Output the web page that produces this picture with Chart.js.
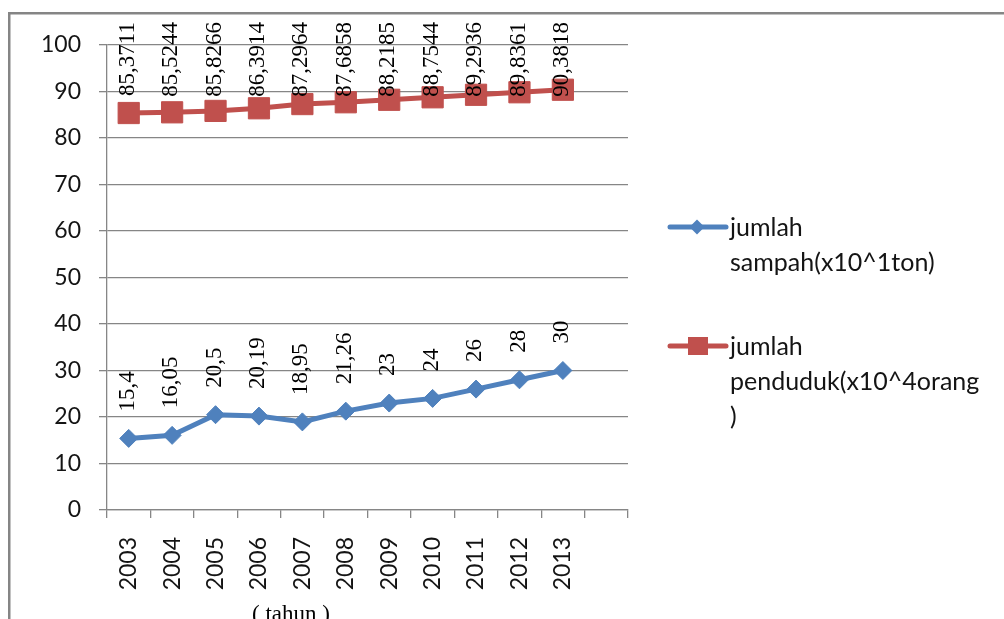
<!DOCTYPE html>
<html>
<head>
<meta charset="utf-8">
<script src="https://cdn.jsdelivr.net/npm/chart.js@4/dist/chart.umd.min.js"></script>
<style>
  html, body { margin: 0; padding: 0; background: #ffffff; overflow: hidden; }
  canvas { display: block; }
</style>
</head>
<body>
<canvas id="chart" width="1004" height="619"></canvas>
<script>
// Years on the x axis (the last slot is left empty)
const years = ['2003', '2004', '2005', '2006', '2007', '2008', '2009', '2010', '2011', '2012', '2013', ''];

// jumlah sampah (x10^1 ton)
const sampah = [15.4, 16.05, 20.5, 20.19, 18.95, 21.26, 23, 24, 26, 28, 30];

// jumlah penduduk (x10^4 orang)
const penduduk = [85.3711, 85.5244, 85.8266, 86.3914, 87.2964, 87.6858, 88.2185, 88.7544, 89.2936, 89.8361, 90.3818];

// Legend entries, wrapped the way they are printed
const legendSampah = ['jumlah', 'sampah(x10^1ton)'];
const legendPenduduk = ['jumlah', 'penduduk(x10^4orang', ')'];

const xTitle = '( tahun )';

const BLUE = '#4F81BD';
const RED = '#C0504D';
const GRID = '#868686';
const TEXT = '#141414';
const SANS = 'Lato';
const SERIF = '"Liberation Serif"';

// White page with the grey frame around the chart
const framePlugin = {
  id: 'frame',
  beforeDraw(chart) {
    const ctx = chart.ctx;
    ctx.save();
    ctx.fillStyle = '#ffffff';
    ctx.fillRect(0, 0, chart.width, chart.height);
    ctx.strokeStyle = '#858585';
    ctx.lineWidth = 2.5;
    ctx.strokeRect(9.25, 13.25, chart.width + 40, chart.height + 40);
    ctx.restore();
  }
};

// Vertical value labels above each point, kept inside the top of the frame
const valueLabels = {
  id: 'valueLabels',
  afterDatasetsDraw(chart) {
    const ctx = chart.ctx;
    ctx.save();
    ctx.font = '23px ' + SERIF;
    ctx.fillStyle = '#000000';
    ctx.textAlign = 'left';
    ctx.textBaseline = 'middle';
    chart.data.datasets.forEach((ds, i) => {
      const meta = chart.getDatasetMeta(i);
      meta.data.forEach((pt, j) => {
        const txt = String(ds.data[j]).replace('.', ',');
        const w = ctx.measureText(txt).width;
        const y0 = Math.max(pt.y - 27, 22 + w);
        ctx.save();
        ctx.translate(pt.x - 1, y0);
        ctx.rotate(-Math.PI / 2);
        ctx.fillText(txt, 0, 0);
        ctx.restore();
      });
    });
    ctx.restore();
  }
};

// Legend on the right, plus the axis caption under the year labels
const sideLegend = {
  id: 'sideLegend',
  afterDraw(chart) {
    const ctx = chart.ctx;
    const items = [
      { lines: legendSampah, color: BLUE, y: 227, marker: 'diamond' },
      { lines: legendPenduduk, color: RED, y: 346, marker: 'square' }
    ];
    ctx.save();
    items.forEach(it => {
      ctx.strokeStyle = it.color;
      ctx.lineWidth = 5;
      ctx.lineCap = 'round';
      ctx.beginPath();
      ctx.moveTo(670, it.y);
      ctx.lineTo(726, it.y);
      ctx.stroke();
      ctx.fillStyle = it.color;
      ctx.beginPath();
      if (it.marker === 'diamond') {
        const r = 7.5;
        ctx.moveTo(697, it.y - r);
        ctx.lineTo(697 + r, it.y);
        ctx.lineTo(697, it.y + r);
        ctx.lineTo(697 - r, it.y);
        ctx.closePath();
      } else {
        ctx.rect(688, it.y - 9, 20, 18);
      }
      ctx.fill();
      ctx.fillStyle = TEXT;
      ctx.font = '25px ' + SANS;
      ctx.textAlign = 'left';
      ctx.textBaseline = 'middle';
      it.lines.forEach((ln, k) => {
        ctx.fillText(ln, 730, it.y + 1 + k * 35);
      });
    });
    ctx.fillStyle = '#000000';
    ctx.font = '23px ' + SERIF;
    ctx.textAlign = 'center';
    ctx.textBaseline = 'alphabetic';
    ctx.fillText(xTitle, 291, 621);
    ctx.restore();
  }
};

Chart.defaults.font.family = SANS;

new Chart(document.getElementById('chart'), {
  type: 'line',
  data: {
    labels: years,
    datasets: [
      {
        label: legendSampah.join(' '),
        data: sampah,
        borderColor: BLUE,
        backgroundColor: BLUE,
        borderWidth: 5,
        pointStyle: 'rectRot',
        pointRadius: 9,
        pointBorderWidth: 1,
        pointBackgroundColor: BLUE,
        pointBorderColor: BLUE,
        tension: 0,
        fill: false
      },
      {
        label: legendPenduduk.join(''),
        data: penduduk,
        borderColor: RED,
        backgroundColor: RED,
        borderWidth: 5,
        pointStyle: 'rect',
        pointRadius: 15,
        pointBorderWidth: 1,
        pointBackgroundColor: RED,
        pointBorderColor: RED,
        tension: 0,
        fill: false
      }
    ]
  },
  options: {
    responsive: false,
    animation: false,
    events: [],
    layout: { padding: { left: 0, top: 45, right: 376, bottom: 0 } },
    plugins: {
      legend: { display: false },
      tooltip: { enabled: false },
      title: { display: false }
    },
    scales: {
      x: {
        type: 'category',
        offset: true,
        afterFit(scale) { scale.height = 109; },
        grid: {
          offset: true,
          drawOnChartArea: false,
          drawTicks: true,
          tickLength: 8,
          color: GRID,
          lineWidth: 1.3
        },
        border: { display: true, color: GRID, width: 1.3 },
        ticks: {
          autoSkip: false,
          minRotation: 90,
          maxRotation: 90,
          padding: 19,
          color: TEXT,
          font: { family: SANS, size: 23 }
        }
      },
      y: {
        min: 0,
        max: 100,
        afterFit(scale) { scale.width = 107; },
        grid: {
          drawTicks: true,
          tickLength: 8,
          color: GRID,
          lineWidth: 1.3
        },
        border: { display: true, color: GRID, width: 1.3 },
        ticks: {
          stepSize: 10,
          padding: 18,
          color: TEXT,
          font: { family: SANS, size: 23 }
        }
      }
    }
  },
  plugins: [framePlugin, valueLabels, sideLegend]
});
</script>
</body>
</html>
